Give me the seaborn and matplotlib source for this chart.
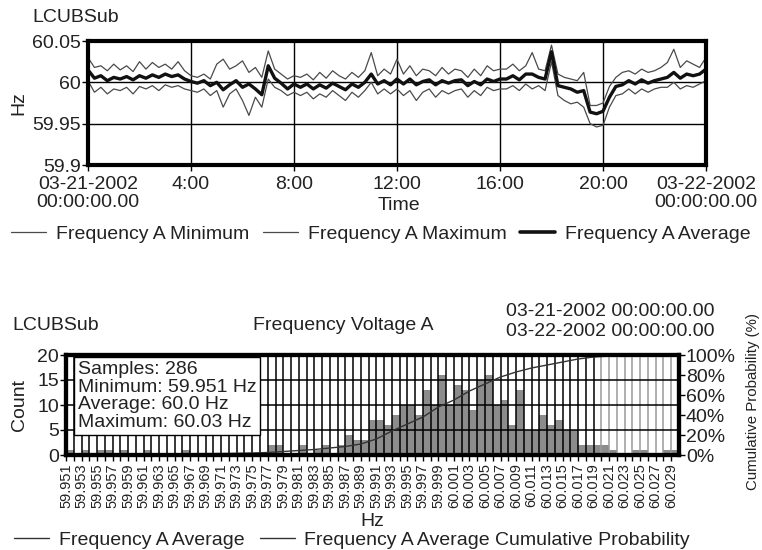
import numpy as np
import pandas as pd
import matplotlib
matplotlib.use("Agg")
import matplotlib.pyplot as plt
from matplotlib.lines import Line2D
import seaborn as sns

sns.set_theme(style="white")
plt.rcParams['font.family'] = ['Liberation Sans', 'DejaVu Sans']

# ---------------- data: top chart (15-minute samples, hours since midnight) ----------------
time_hours = np.arange(0, 24.01, 0.25)

freq_avg = [
    60.015, 60.005, 60.008, 60.002, 60.006, 60.004, 60.007, 60.003, 60.008, 60.005, 60.009, 60.006, 60.010, 60.007, 60.009, 60.004, 60.001,
    59.999, 60.002, 59.996, 60.000, 59.991, 59.997, 60.002, 59.994, 59.998, 59.992, 59.985, 60.020, 60.005, 59.999, 59.992, 59.998,
    59.994, 59.998, 59.992, 59.997, 59.993, 59.999, 59.995, 59.991, 59.998, 59.994, 60.000, 60.010, 59.998, 60.002, 59.997, 60.004,
    59.998, 60.004, 59.997, 60.001, 60.003, 59.997, 60.002, 59.999, 60.002, 60.003, 59.996, 60.001, 59.997, 60.004, 60.001, 60.004,
    60.004, 60.008, 60.003, 60.010, 60.010, 60.006, 60.004, 60.037, 59.996, 59.994, 59.992, 59.988, 59.990, 59.964, 59.962, 59.965,
    59.982, 59.995, 59.997, 60.002, 59.998, 60.003, 59.999, 60.002, 60.004, 60.006, 60.012, 60.005, 60.010, 60.008, 60.010, 60.016,
]
freq_max = [
    60.030, 60.018, 60.020, 60.014, 60.022, 60.015, 60.020, 60.013, 60.025, 60.016, 60.024, 60.018, 60.022, 60.016, 60.025, 60.014, 60.008,
    60.006, 60.010, 60.004, 60.022, 60.028, 60.016, 60.020, 60.026, 60.012, 60.018, 60.006, 60.038, 60.016, 60.010, 60.004, 60.008,
    60.006, 60.010, 60.003, 60.012, 60.005, 60.014, 60.008, 60.004, 60.012, 60.006, 60.014, 60.036, 60.008, 60.016, 60.010, 60.028,
    60.010, 60.020, 60.008, 60.016, 60.014, 60.008, 60.018, 60.010, 60.016, 60.014, 60.006, 60.016, 60.008, 60.020, 60.014, 60.016,
    60.016, 60.022, 60.014, 60.020, 60.036, 60.016, 60.014, 60.045, 60.010, 60.006, 60.004, 60.002, 60.012, 59.972, 59.972, 59.975,
    59.995, 60.006, 60.012, 60.014, 60.010, 60.016, 60.012, 60.014, 60.018, 60.024, 60.040, 60.018, 60.026, 60.022, 60.018, 60.030,
]
freq_min = [
    60.002, 59.988, 59.994, 59.986, 59.992, 59.990, 59.994, 59.986, 59.995, 59.992, 59.996, 59.990, 59.997, 59.994, 59.996, 59.992, 59.990,
    59.988, 59.992, 59.984, 59.990, 59.970, 59.986, 59.992, 59.978, 59.960, 59.982, 59.970, 60.004, 59.994, 59.990, 59.984, 59.988,
    59.984, 59.988, 59.980, 59.986, 59.982, 59.990, 59.984, 59.978, 59.988, 59.982, 59.990, 60.000, 59.986, 59.992, 59.986, 59.992,
    59.984, 59.990, 59.978, 59.988, 59.992, 59.982, 59.990, 59.986, 59.990, 59.992, 59.982, 59.990, 59.984, 59.994, 59.990, 59.992,
    59.992, 59.996, 59.990, 59.998, 59.992, 59.996, 59.990, 60.025, 59.984, 59.978, 59.974, 59.976, 59.970, 59.950, 59.946, 59.948,
    59.970, 59.984, 59.986, 59.992, 59.986, 59.992, 59.988, 59.992, 59.994, 59.994, 60.000, 59.992, 59.996, 59.994, 59.998, 60.002,
]

time_ticks = [0, 4, 8, 12, 16, 20, 24]
time_labels = ["03-21-2002\n00:00:00.00", "4:00", "8:00", "12:00", "16:00", "20:00", "03-22-2002\n00:00:00.00"]
hz_ticks = [59.9, 59.95, 60.0, 60.05]
hz_labels = ["59.9", "59.95", "60", "60.05"]

# ---------------- data: histogram ----------------
bin_values = [round(59.951 + 0.001 * i, 3) for i in range(79)]
counts = [
    1, 0, 1, 0, 1, 1, 0, 1, 0, 0,      # 59.951 - 59.960
    1, 0, 0, 0, 0, 1, 0, 0, 0, 0,      # 59.961 - 59.970
    0, 0, 0, 0, 0, 0, 2, 2, 0, 0,      # 59.971 - 59.980
    2, 0, 1, 2, 0, 2, 4, 3, 3, 7,      # 59.981 - 59.990
    7, 6, 8, 10, 10, 8, 13, 10, 16, 10,  # 59.991 - 60.000
    14, 13, 9, 15, 16, 10, 11, 6, 13, 5,  # 60.001 - 60.010
    5, 8, 6, 7, 5, 5, 2, 2, 2, 2,      # 60.011 - 60.020
    1, 0, 0, 1, 1, 0, 0, 1, 1,         # 60.021 - 60.029
]
cum_x = [59.951, 59.953, 59.955, 59.957, 59.959, 59.961, 59.963, 59.965, 59.967, 59.969,
         59.971, 59.973, 59.975, 59.977, 59.979, 59.981, 59.983, 59.985, 59.987, 59.989,
         59.991, 59.993, 59.995, 59.997, 59.999, 60.001, 60.003, 60.005, 60.007, 60.009,
         60.011, 60.013, 60.015, 60.017, 60.019, 60.021, 60.023, 60.025, 60.027, 60.029]
cum_pct = [0.0, 0.3, 0.5, 0.7, 0.9, 1.0, 1.1, 1.2, 1.3, 1.4,
           1.5, 1.7, 2.0, 2.5, 3.5, 4.5, 5.5, 7.0, 8.5, 11.0,
           16.0, 24.0, 31.0, 38.0, 48.0, 55.0, 64.0, 71.0, 78.0, 83.0,
           87.0, 90.0, 93.0, 96.0, 98.0, 99.0, 99.5, 100.0, 100.0, 100.0]
count_ticks = [0, 5, 10, 15, 20]
pct_ticks = [0, 20, 40, 60, 80, 100]
stats_lines = ["Samples: 286", "Minimum: 59.951 Hz", "Average: 60.0 Hz", "Maximum: 60.03 Hz"]

# ---------------- figure ----------------
W, H = 762, 550
fig = plt.figure(figsize=(W / 100, H / 100), dpi=100)
FS = 14
TXT = "#222222"


def fx(px):
    return px / W


def fy(py):
    return 1 - py / H


# ---- top chart ----
ax1 = fig.add_axes([fx(88), fy(165), fx(706) - fx(88), fy(41) - fy(165)])
df_top = pd.DataFrame({"t": time_hours, "min": freq_min, "max": freq_max, "avg": freq_avg})
sns.lineplot(data=df_top, x="t", y="min", ax=ax1, color="#4a4a4a", linewidth=0.9)
sns.lineplot(data=df_top, x="t", y="max", ax=ax1, color="#4a4a4a", linewidth=0.9)
sns.lineplot(data=df_top, x="t", y="avg", ax=ax1, color="#111111", linewidth=2.4)
ax1.set_xlim(0, 24)
ax1.set_ylim(59.9, 60.05)
ax1.set_xticks(time_ticks)
ax1.set_xticklabels(time_labels, fontsize=FS, linespacing=1.05)
ax1.set_yticks(hz_ticks)
ax1.set_yticklabels(hz_labels, fontsize=FS)
ax1.grid(True, color="black", linewidth=1)
ax1.set_axisbelow(True)
ax1.tick_params(axis="both", direction="out", length=4, width=1, color="black", labelcolor=TXT)
ax1.tick_params(axis="x", bottom=True, pad=4)
ax1.tick_params(axis="y", left=True, pad=1)
for sp in ax1.spines.values():
    sp.set_linewidth(3)
    sp.set_color("black")
ax1.set_xlabel("Time", fontsize=FS, color=TXT)
ax1.xaxis.set_label_coords(0.503, -0.255)
ax1.set_ylabel("Hz", fontsize=FS, color=TXT)
ax1.yaxis.set_label_coords(-0.098, 0.5)
fig.text(fx(32), fy(17), "LCUBSub", fontsize=FS, ha="left", va="center", color=TXT)

top_handles = [Line2D([], [], color="#4a4a4a", lw=0.9),
               Line2D([], [], color="#4a4a4a", lw=0.9),
               Line2D([], [], color="#111111", lw=2.6)]
fig.legend(top_handles, ["Frequency A Minimum", "Frequency A Maximum", "Frequency A Average"],
           loc="center", bbox_to_anchor=(fx(381), fy(234)), ncol=3, frameon=False,
           fontsize=FS, handlelength=1.8, handletextpad=0.5, columnspacing=0.7,
           labelcolor=TXT)

# ---- bottom chart ----
ax2 = fig.add_axes([fx(66), fy(455), fx(679) - fx(66), fy(355) - fy(455)])
edges = [round(59.951 + 0.001 * i, 3) for i in range(80)]
df_hist = pd.DataFrame({"hz": [v + 0.0005 for v in bin_values], "count": counts})
sns.histplot(data=df_hist, x="hz", weights="count", bins=edges, ax=ax2,
             color="#8c8c8c", alpha=1.0, linewidth=0, edgecolor="none")
ax2.set_xlim(59.951, 60.030)
ax2.set_ylim(0, 20)
ax2.set_xticks(edges[:-1])
ax2.set_xticklabels([f"{v:.3f}" if i % 2 == 0 else "" for i, v in enumerate(edges[:-1])],
                    rotation=90, fontsize=10.5)
ax2.set_yticks(count_ticks)
ax2.set_yticklabels([str(c) for c in count_ticks], fontsize=FS)
ax2.set_axisbelow(False)
ax2.grid(True, color="black", linewidth=1.1)
# the vertical grid lines on the far right are drawn lighter in the reference
for i, gl in enumerate(ax2.get_xgridlines()):
    if i >= 69:
        gl.set_color("#9a9a9a")
ax2.tick_params(axis="both", direction="out", length=4, width=1, color="black", pad=1, labelcolor=TXT)
ax2.tick_params(axis="x", bottom=True, pad=2)
ax2.tick_params(axis="y", left=True)
for sp in ax2.spines.values():
    sp.set_linewidth(3)
    sp.set_color("black")
ax2.set_xlabel("Hz", fontsize=FS, color=TXT, labelpad=3)
ax2.set_ylabel("Count", fontsize=FS, color=TXT)
ax2.yaxis.set_label_coords(-0.062, 0.5)

ax3 = ax2.twinx()
df_cum = pd.DataFrame({"hz": cum_x, "pct": cum_pct})
sns.lineplot(data=df_cum, x="hz", y="pct", ax=ax3, color="#333333", linewidth=1.0)
ax3.set_ylim(0, 100)
ax3.set_yticks(pct_ticks)
ax3.set_yticklabels([f"{p}%" for p in pct_ticks], fontsize=FS)
ax3.tick_params(axis="y", direction="out", length=4, width=1, color="black", pad=1, labelcolor=TXT, right=True)
ax3.grid(False)
for sp in ax3.spines.values():
    sp.set_linewidth(3)
    sp.set_color("black")
ax3.set_ylabel("Cumulative Probability (%)", fontsize=10.8, color=TXT)
ax3.yaxis.set_label_coords(1.11, 0.53)

ax2.text(0.019, 0.94, "\n".join(stats_lines), transform=ax2.transAxes, fontsize=FS,
         ha="left", va="top", linespacing=1.05, color=TXT, zorder=10,
         bbox=dict(boxstyle="square,pad=0.2", fc="white", ec="black", lw=1))

fig.text(fx(12), fy(325), "LCUBSub", fontsize=FS, ha="left", va="center", color=TXT)
fig.text(fx(343), fy(325), "Frequency Voltage A", fontsize=FS, ha="center", va="center", color=TXT)
fig.text(fx(715), fy(311), "03-21-2002 00:00:00.00", fontsize=FS, ha="right", va="center", color=TXT)
fig.text(fx(715), fy(332), "03-22-2002 00:00:00.00", fontsize=FS, ha="right", va="center", color=TXT)

bot_handles = [Line2D([], [], color="#333333", lw=1.0), Line2D([], [], color="#333333", lw=1.0)]
fig.legend(bot_handles, ["Frequency A Average", "Frequency A Average Cumulative Probability"],
           loc="center", bbox_to_anchor=(fx(352), fy(540)), ncol=2, frameon=False,
           fontsize=FS, handlelength=1.8, handletextpad=0.5, columnspacing=0.8,
           labelcolor=TXT)

fig.savefig("out.png", dpi=100)
